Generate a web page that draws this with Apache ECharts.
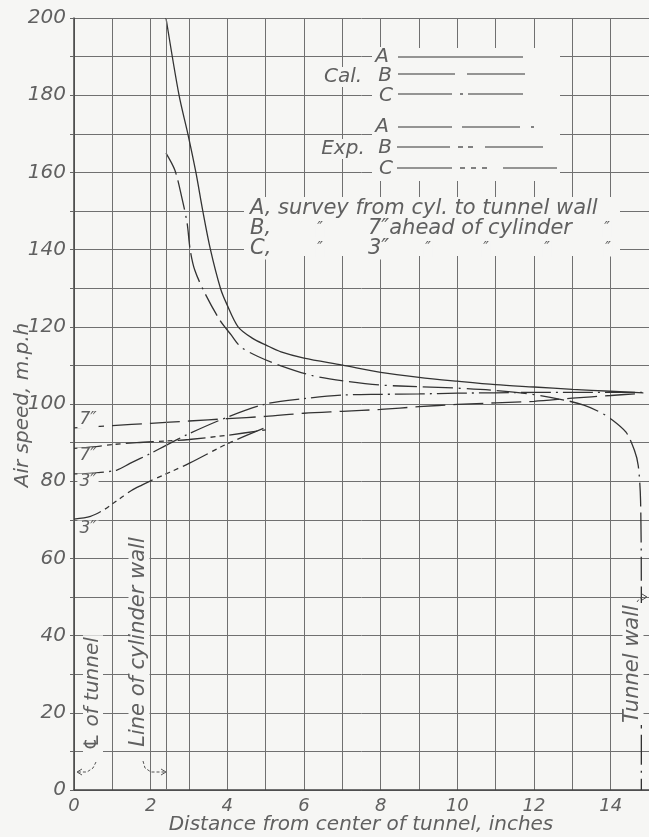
<!DOCTYPE html>
<html>
<head>
<meta charset="utf-8">
<script src="https://cdn.jsdelivr.net/npm/echarts@6/dist/echarts.min.js"></script>
<style>html,body{margin:0;padding:0;background:#f6f6f4;}#c{width:649px;height:837px;}</style>
</head>
<body>
<div id="c"></div>
<script>
// ---- data ----
const xTicks = [0, 2, 4, 6, 8, 10, 12, 14];
const yTicks = [0, 20, 40, 60, 80, 100, 120, 140, 160, 180, 200];
const cylinderWallX = 2.4;

// Cal. A – calculated, survey from cylinder to tunnel wall
const calA_x = [2.4, 2.74, 2.97, 3.18, 3.36, 3.56, 3.82, 3.98, 4.28, 4.66, 5.0, 5.4, 6, 7, 8, 9, 10, 11, 12, 13, 14, 14.85];
const calA_y = [200, 180, 170, 160, 150, 140, 130, 126, 120, 117, 115.3, 113.5, 111.9, 110.1, 108.2, 106.9, 105.9, 105, 104.4, 103.8, 103.3, 102.9];
// Cal. B – calculated, 7" ahead of cylinder
const calB_x = [0, 1, 2, 3, 4, 5, 6, 7, 8, 9, 10, 11, 12, 13, 14, 14.85];
const calB_y = [93.8, 94.4, 95, 95.6, 96.2, 96.8, 97.6, 98.1, 98.6, 99.3, 99.9, 100.3, 100.7, 101.5, 102.2, 102.8];
// Cal. C – calculated, 3" ahead of cylinder
const calC_x = [0, 0.5, 1.12, 1.46, 2, 2.4, 3, 4, 5, 6, 7, 8, 9, 10, 11, 12, 13, 14, 14.85];
const calC_y = [81.9, 82.1, 82.9, 84.6, 87.2, 89.3, 92.3, 96.6, 100, 101.4, 102.3, 102.5, 102.6, 102.8, 102.9, 103, 103, 103, 103];
// Exp. A – experimental, survey from cylinder to tunnel wall
const expA_x = [2.4, 2.63, 2.81, 2.95, 3.03, 3.15, 3.41, 3.8, 4.1, 4.35, 4.8, 5.4, 6.2, 7.1, 8, 9, 10, 11, 11.9, 12.8, 13.3, 13.7, 14.0, 14.4, 14.62, 14.72, 14.78, 14.8, 14.8];
const expA_y = [165, 160.6, 153.6, 146.9, 140, 134.7, 128.8, 121.8, 117.9, 114.8, 112.3, 109.9, 107.4, 105.9, 104.9, 104.5, 104.1, 103.5, 102.6, 101, 99.7, 98, 96.2, 92.7, 88, 84, 75, 50, 0];
// Exp. B – experimental, 7" ahead of cylinder
const expB_x = [0, 0.5, 1, 1.64, 2.4, 3, 4, 5];
const expB_y = [88.5, 88.9, 89.5, 90, 90.4, 90.8, 91.9, 93.3];
// Exp. C – experimental, 3" ahead of cylinder
const expC_x = [0, 0.43, 0.78, 1.04, 1.21, 1.5, 1.77, 2, 3, 4, 5.02];
const expC_y = [70.2, 70.9, 72.6, 74.4, 75.6, 77.6, 79, 80.1, 84.6, 89.7, 94];

// ---- styling ----
const BG = '#f6f6f4';
const INK = '#333';
const TXT = '#606060';
const GRIDC = '#707070';
const FONT = "'DejaVu Sans', 'Noto Sans', sans-serif";

const pairs = (xs, ys) => xs.map((x, i) => [x, ys[i]]);
const DASH = {
  calA: 'solid',
  calB: [30, 8],
  calC: [30, 5, 2, 5],
  expA: [24, 6, 30, 6, 2, 6],
  expB: [28, 5, 5, 4, 5, 5],
  expC: [28, 5, 5, 4, 5, 4, 5, 5]
};
function line(name, xs, ys, dash, extra) {
  return Object.assign({
    name, type: 'line', data: pairs(xs, ys), showSymbol: false, symbol: 'none',
    smooth: 0.3, z: 3, silent: true,
    lineStyle: { color: INK, width: 1.3, type: dash }
  }, extra || {});
}

function T(text, x, y, o) {
  o = o || {};
  const st = {
    text, x: 0, y: 0,
    font: `italic ${o.size || 20}px ${FONT}`,
    fill: o.color || TXT,
    textAlign: o.align || 'center', align: o.align || 'center',
    textVerticalAlign: 'middle', verticalAlign: 'middle'
  };
  if (o.bg !== false) { st.backgroundColor = BG; st.padding = o.pad || [0, 2]; }
  return { type: 'text', x, y, rotation: o.rot || 0, z: 10, silent: true, style: st };
}
function seg(x1, y1, x2, y2, dash) {
  return { type: 'line', z: 10, silent: true, shape: { x1, y1, x2, y2 },
    style: { stroke: INK, lineWidth: 1.2, lineDash: dash || null } };
}
function rect(x, y, w, h) {
  return { type: 'rect', z: 1, silent: true, shape: { x, y, width: w, height: h }, style: { fill: BG } };
}
function poly(points, dash) {
  return { type: 'polyline', z: 10, silent: true, shape: { points },
    style: { stroke: '#555', lineWidth: 1, fill: null, lineDash: dash || null } };
}

const graphics = [
  // blank areas behind the key blocks
  rect(372, 48, 188, 133),
  rect(244, 197, 376, 59),
  // key: calculated
  T('A', 382, 57), T('Cal.', 343, 77), T('B', 385, 76), T('C', 386, 96),
  seg(398, 57, 523, 57),
  seg(398, 74, 455, 74), seg(467, 74, 525, 74),
  seg(398, 94, 452, 94), seg(460, 94, 463, 94), seg(468, 94, 523, 94),
  // key: experimental
  T('A', 382, 127), T('Exp.', 343, 149), T('B', 385, 148), T('C', 386, 169),
  seg(398, 127, 452, 127), seg(462, 127, 520, 127), seg(531, 127, 534, 127),
  seg(397, 147, 450, 147), seg(458, 147, 463, 147), seg(468, 147, 473, 147), seg(485, 147, 543, 147),
  seg(397, 168, 452, 168), seg(460, 168, 465, 168), seg(471, 168, 476, 168), seg(482, 168, 487, 168), seg(503, 168, 557, 168),
  // explanation block
  T('A, survey from cyl. to tunnel wall', 248, 209, { align: 'left', size: 21 }),
  T('B,', 248, 229, { align: 'left', size: 21 }), T('\u2033', 320, 229, { size: 15 }),
  T('7\u2033ahead of cylinder', 366, 229, { align: 'left', size: 21 }), T('\u2033', 607, 229, { size: 15 }),
  T('C,', 248, 249, { align: 'left', size: 21 }), T('\u2033', 320, 249, { size: 15 }),
  T('3\u2033', 366, 249, { align: 'left', size: 21 }), T('\u2033', 428, 249, { size: 15 }),
  T('\u2033', 486, 249, { size: 15 }), T('\u2033', 547, 249, { size: 15 }), T('\u2033', 608, 249, { size: 15 }),
  // curve labels at left
  T('7\u2033', 88, 420, { size: 17 }), T('7\u2033', 88, 456, { size: 17 }),
  T('3\u2033', 88, 482, { size: 17 }), T('3\u2033', 88, 529, { size: 17 }),
  // vertical annotations
  T('\u2104 of tunnel', 93, 694, { rot: Math.PI / 2, size: 20 }),
  T('Line of cylinder wall', 139, 642, { rot: Math.PI / 2, size: 21 }),
  T('Tunnel wall', 633, 664, { rot: Math.PI / 2, size: 21 }),
  // small dashed leader arrows
  poly([[96, 762], [93, 768], [87, 772], [78, 772]], [3, 2]),
  poly([[82, 769], [77, 772], [82, 775]]),
  poly([[143, 761], [145, 768], [151, 772], [166, 772]], [3, 2]),
  poly([[161, 769], [166, 772], [161, 775]]),
  poly([[637, 602], [640, 598], [646, 597]], [3, 2]),
  poly([[642, 594], [647, 597], [642, 600]]),
  // axis titles
  T('Air speed, m.p.h', 23, 405, { rot: Math.PI / 2, size: 20, bg: false }),
  T('Distance from center of tunnel, inches', 361, 825, { size: 20, bg: false })
];

const chart = echarts.init(document.getElementById('c'), null, { renderer: 'canvas' });
chart.setOption({
  backgroundColor: BG,
  animation: false,
  grid: { left: 74, top: 18, width: 581, height: 772, containLabel: false },
  xAxis: {
    type: 'value', min: 0, max: 15, interval: 1,
    axisLine: { show: true, onZero: false, lineStyle: { color: '#444', width: 1.5 } },
    axisTick: { show: false },
    splitLine: { show: true, lineStyle: { color: GRIDC, width: 1 } },
    axisLabel: {
      show: true, margin: 7, fontSize: 18, fontStyle: 'italic', fontFamily: FONT, color: TXT,
      showMaxLabel: false, showMinLabel: true,
      formatter: v => (xTicks.indexOf(v) >= 0 ? String(v) : '')
    }
  },
  yAxis: {
    type: 'value', min: 0, max: 200, interval: 10,
    axisLine: { show: true, onZero: false, lineStyle: { color: '#444', width: 1.5 } },
    axisTick: { show: true, length: 4, lineStyle: { color: '#666' } },
    splitLine: { show: true, lineStyle: { color: GRIDC, width: 1 } },
    axisLabel: {
      show: true, margin: 8, fontSize: 20, fontStyle: 'italic', fontFamily: FONT, color: TXT,
      formatter: v => (yTicks.indexOf(v) >= 0 ? String(v) : '')
    }
  },
  series: [
    line('Cal. A', calA_x, calA_y, DASH.calA, {
      markLine: {
        silent: true, symbol: 'none', label: { show: false },
        lineStyle: { color: GRIDC, width: 1, type: 'solid' },
        data: [{ xAxis: cylinderWallX }]
      }
    }),
    line('Cal. B', calB_x, calB_y, DASH.calB),
    line('Cal. C', calC_x, calC_y, DASH.calC),
    line('Exp. A', expA_x, expA_y, DASH.expA),
    line('Exp. B', expB_x, expB_y, DASH.expB),
    line('Exp. C', expC_x, expC_y, DASH.expC)
  ],
  graphic: { elements: graphics }
});
</script>
</body>
</html>
